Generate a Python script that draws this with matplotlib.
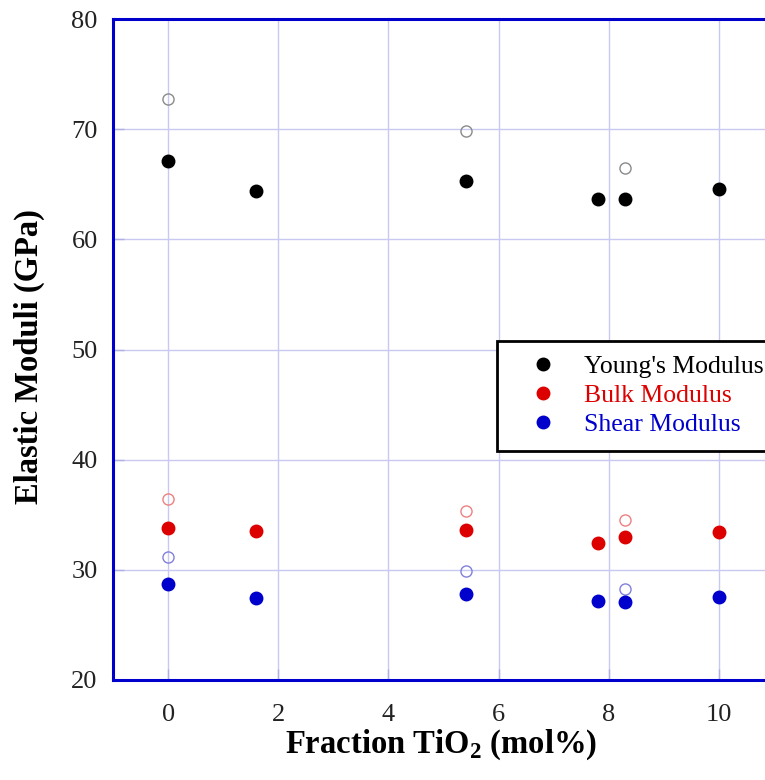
import matplotlib
matplotlib.use("Agg")
import matplotlib.pyplot as plt
from matplotlib.lines import Line2D

plt.rcParams['font.family'] = ['Liberation Serif', 'DejaVu Serif']
plt.rcParams['mathtext.fontset'] = 'custom'
plt.rcParams['mathtext.rm'] = 'Liberation Serif'
plt.rcParams['mathtext.bf'] = 'Liberation Serif:bold'

# Data (TiO2 fraction in mol%, moduli in GPa)
x_filled = [0, 1.6, 5.4, 7.8, 8.3, 10]
young_filled = [67.1, 64.4, 65.25, 63.65, 63.7, 64.6]
bulk_filled = [33.8, 33.5, 33.6, 32.45, 33.0, 33.45]
shear_filled = [28.7, 27.4, 27.8, 27.2, 27.1, 27.5]

x_open = [0, 5.4, 8.3]
young_open = [72.7, 69.8, 66.5]
bulk_open = [36.4, 35.35, 34.5]
shear_open = [31.2, 29.9, 28.3]

series_names = ["Young's Modulus", "Bulk Modulus", "Shear Modulus"]
series_colors = ['#000000', '#dd0000', '#0000cc']
open_colors = ['#8a8a8a', '#ee8080', '#8080dd']

x_ticks = [0, 2, 4, 6, 8, 10]
y_ticks = [20, 30, 40, 50, 60, 70, 80]

W, H = 765, 780
fig = plt.figure(figsize=(W / 100, H / 100), dpi=100)
ax_left, ax_right, ax_top, ax_bottom = 113, 774, 19, 680
aw, ah = ax_right - ax_left, ax_bottom - ax_top
ax = fig.add_axes([ax_left / W, (H - ax_bottom) / H, aw / W, ah / H])

ax.set_xlim(-1, 11)
ax.set_ylim(20, 80)
ax.set_xticks(x_ticks)
ax.set_yticks(y_ticks)
ax.grid(True, color='#c8c8f0', linewidth=1.0)
ax.set_axisbelow(True)

filled = [young_filled, bulk_filled, shear_filled]
opens = [young_open, bulk_open, shear_open]
for yf, yo, c, oc in zip(filled, opens, series_colors, open_colors):
    ax.plot(x_open, yo, linestyle='none', marker='o', markersize=8,
            markerfacecolor='none', markeredgecolor=oc, markeredgewidth=1.0,
            zorder=3)
    ax.plot(x_filled, yf, linestyle='none', marker='o', markersize=9,
            markerfacecolor=c, markeredgecolor=c, zorder=4)

for s in ax.spines.values():
    s.set_color('#0000cc')
    s.set_linewidth(2.2)

ax.tick_params(axis='both', direction='in', length=8, width=1,
               color='#b0b0e0', labelsize=19, labelcolor='#222222')
ax.tick_params(axis='x', pad=17)
ax.tick_params(axis='y', pad=11)

ax.set_xlabel(r'Fraction TiO$_\mathbf{2}$ (mol%)', fontsize=23.5,
              fontweight='bold')
ax.xaxis.set_label_coords((441 - ax_left) / aw, (ax_bottom - 728) / ah)
ax.set_ylabel('Elastic Moduli (GPa)', fontsize=23.5, fontweight='bold')
ax.yaxis.set_label_coords((45 - ax_left) / aw, (ax_bottom - 357) / ah)

handles = [Line2D([], [], linestyle='none', marker='o', markersize=9,
                  markerfacecolor=c, markeredgecolor=c)
           for c in series_colors]
leg = ax.legend(handles, series_names, loc='upper left',
                bbox_to_anchor=((497 - ax_left) / aw, (ax_bottom - 341) / ah),
                fontsize=18.5, frameon=True, fancybox=False, framealpha=1,
                edgecolor='black', handlelength=2.5, handletextpad=0.35,
                labelspacing=0.24, borderpad=0.55, borderaxespad=0)
leg.get_frame().set_linewidth(2.0)
for t, c in zip(leg.get_texts(), series_colors):
    t.set_color(c)

fig.savefig('out.png', dpi=100)
